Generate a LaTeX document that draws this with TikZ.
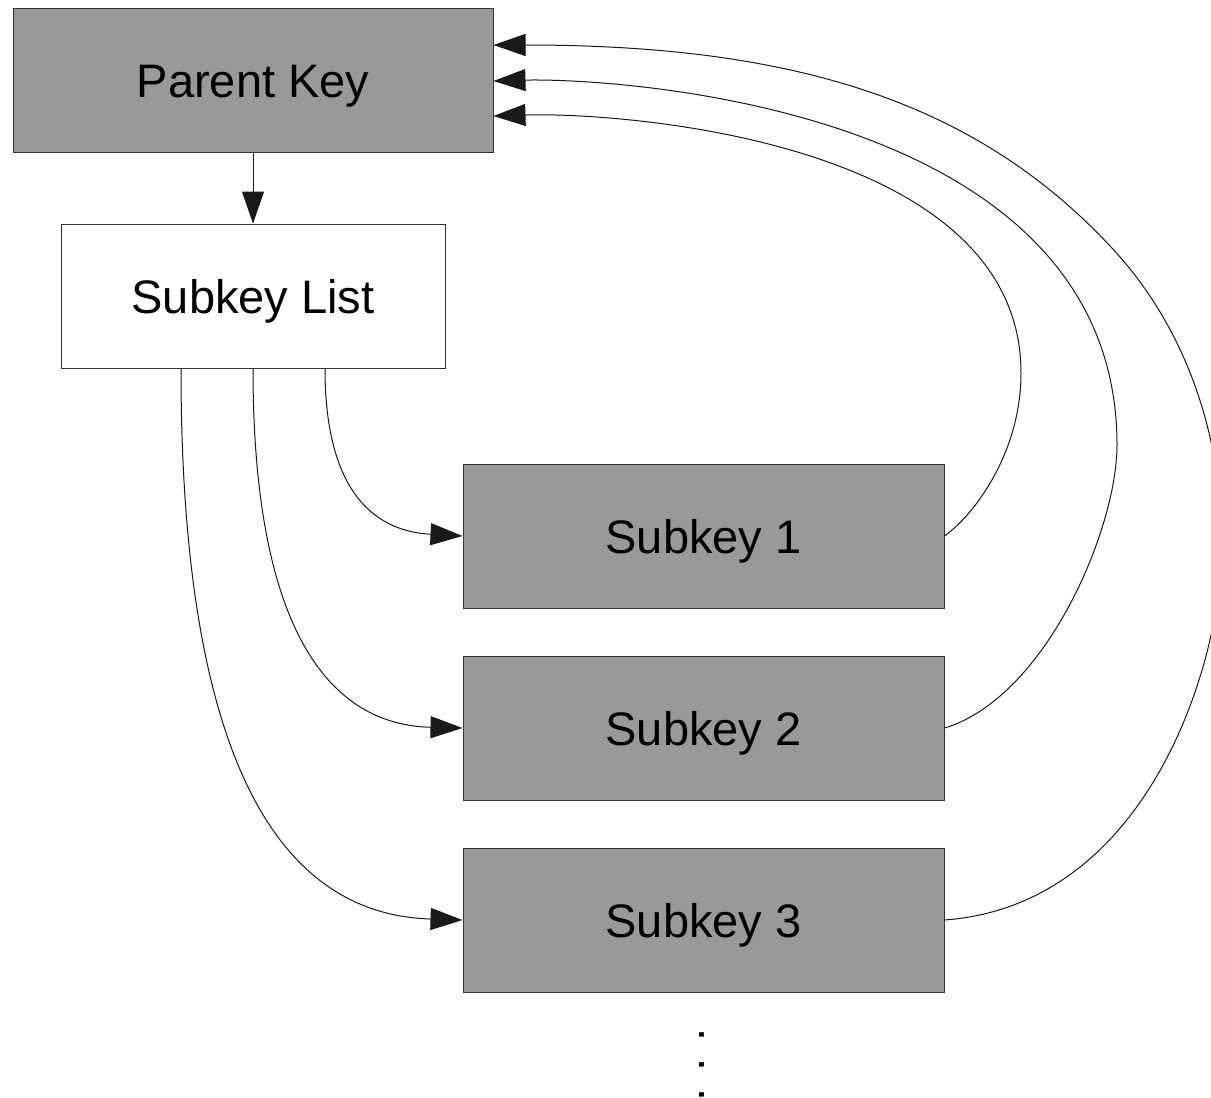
\documentclass[tikz,border=0pt]{standalone}
\usepackage{fontspec}
\setmainfont{Liberation Sans}
\usetikzlibrary{arrows.meta}
\definecolor{boxgray}{HTML}{999999}
\begin{document}
\begin{tikzpicture}[x=1pt,y=-1pt,
  box/.style={draw=black!80, line width=1pt, minimum height=144pt, inner sep=0pt,
    text height=34pt, text depth=0pt, font=\fontsize{47pt}{56pt}\selectfont},
  graybox/.style={box, fill=boxgray},
  con/.style={line width=1pt, draw=black!90, -{Triangle[length=32pt,width=22pt]}},
  txt/.style={font=\fontsize{46pt}{56pt}\selectfont, inner sep=0pt}]
\useasboundingbox[fill=white] (0,0) rectangle (1211,1098);

\node[graybox, minimum width=480pt] (pk) at (253,80) {Parent Key};
\node[box, fill=white, minimum width=384pt] (sl) at (253,296) {Subkey List};
\node[graybox, minimum width=481pt] (s1) at (703.5,536) {Subkey 1};
\node[graybox, minimum width=481pt] (s2) at (703.5,728) {Subkey 2};
\node[graybox, minimum width=481pt] (s3) at (703.5,920) {Subkey 3};
\node[txt, rotate=-90, anchor=base] (dots) at (699,1065) {. . .};

% parent key -> subkey list
\draw[con] (pk.south) -- (sl.north);

% subkey list -> subkeys
\draw[con] ([xshift=72pt]sl.south) .. controls (325,510) and (390,532) .. (s1.west);
\draw[con] (sl.south) .. controls (253,640) and (335,725) .. (s2.west);
\draw[con] ([xshift=-72pt]sl.south) .. controls (181,800) and (300,915) .. (s3.west);

% subkeys -> parent key
\draw[con] (s1.east) .. controls (974,515) and (1021,453) .. (1021,373)
  .. controls (1021,140) and (620,112) .. ([yshift=-36pt]pk.east);
\draw[con] (s2.east) .. controls (1045,698) and (1117,530) .. (1117,445)
  .. controls (1117,100) and (600,78) .. ([yshift=-1pt]pk.east);
\draw[con] (s3.east) .. controls (1150,905) and (1222,660) .. (1222,545)
  .. controls (1222,435) and (1186,327) .. (1111,247)
  .. controls (975,101) and (793,45) .. ([yshift=35pt]pk.east);
\end{tikzpicture}
\end{document}
